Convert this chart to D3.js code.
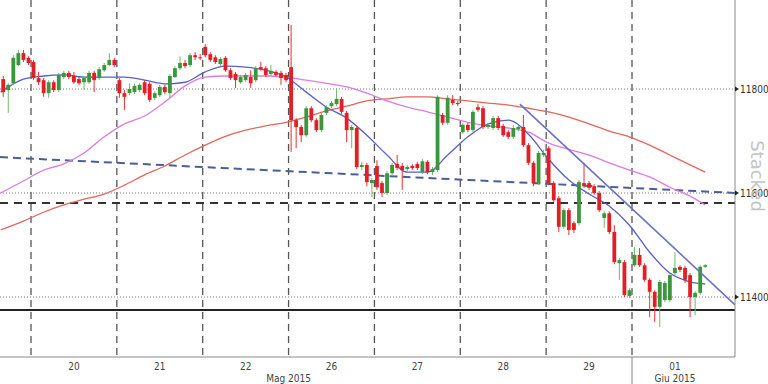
<!DOCTYPE html>
<html><head><meta charset="utf-8">
<script src="https://cdn.jsdelivr.net/npm/d3@7"></script>
<style>body{margin:0;background:#fff}svg{display:block}</style>
</head><body>
<svg id="c" width="768" height="384"></svg>
<script>
// ---------- DATA ----------
const sessionDays   = ["19","20","21","22","26","27","28","29","01"];
const sessionCounts = [6,17,17,17,17,17,17,17,15];
const monthLabels   = ["Mag 2015","Giu 2015"];
const rightTicks    = [11400,11600,11800];

const opens = [11819,11798,11811,11846,11869,11860,11852,11821,11817,11792,11813,11798,11823,11831,11825,11819,11813,11813,11831,11821,11836,11846,11856,
11817,11792,11792,11794,11798,11813,11810,11783,11788,11804,11792,11823,11840,11850,11846,11865,11861,
11881,11867,11861,11848,11860,11836,11829,11813,11817,11823,11817,11842,11840,11829,11833,11831,11827,
11842,11740,11727,11711,11763,11740,11721,11754,11767,11771,11781,11754,11721,11725,11650,11654,11619,
11652,11619,11600,11638,11656,11652,11646,11652,11656,11640,11660,11640,11644,11750,11735,11779,11773,
11717,11731,11721,11765,11763,11727,11725,11744,11729,11717,11708,11723,11727,11692,11658,11619,11673,
11686,11619,11590,11535,11567,11542,11542,11619,11619,11613,11600,11552,11561,11525,11465,11467,11402,
11461,11481,11461,11433,11410,11381,11394,11394,11446,11458,11456,11442,11400,11408,11458];
const highs = [11825,11811,11865,11875,11875,11863,11856,11833,11821,11817,11817,11831,11835,11835,11833,11823,11825,11835,11835,11842,11850,11869,11860,
11821,11798,11811,11810,11811,11817,11813,11796,11808,11808,11829,11844,11863,11856,11869,11871,11867,
11886,11871,11865,11861,11863,11840,11833,11827,11831,11836,11844,11852,11844,11846,11836,11835,11831,
11923,11744,11731,11767,11767,11744,11754,11769,11777,11802,11785,11758,11731,11729,11660,11658,11629,
11663,11623,11642,11658,11673,11658,11654,11656,11660,11665,11663,11650,11788,11754,11788,11788,11777,
11735,11735,11760,11771,11767,11735,11748,11748,11733,11721,11731,11731,11750,11696,11661,11681,11683,
11690,11623,11594,11571,11571,11546,11625,11658,11623,11617,11604,11565,11565,11538,11475,11471,11417,
11496,11494,11465,11436,11413,11433,11431,11446,11486,11461,11460,11446,11411,11461,11463];
const lows = [11785,11754,11808,11844,11852,11846,11817,11808,11785,11783,11794,11794,11819,11819,11810,11808,11798,11810,11794,11817,11833,11844,11842,
11783,11760,11788,11790,11794,11788,11775,11779,11785,11790,11783,11821,11836,11840,11842,11856,11856,
11861,11852,11848,11844,11833,11817,11802,11810,11813,11802,11813,11835,11823,11825,11823,11808,11813,
11679,11686,11698,11708,11736,11717,11717,11750,11763,11767,11752,11698,11686,11646,11644,11613,11592,
11606,11592,11596,11635,11644,11606,11642,11644,11644,11636,11636,11635,11640,11731,11731,11769,11767,
11713,11717,11717,11756,11723,11723,11721,11721,11708,11704,11704,11719,11688,11654,11613,11615,11669,
11615,11583,11525,11531,11519,11523,11538,11610,11606,11596,11563,11533,11521,11463,11433,11400,11398,
11458,11458,11429,11361,11352,11342,11390,11390,11442,11448,11427,11361,11365,11404,11456];
const closes = [11794,11808,11860,11869,11856,11850,11821,11813,11792,11813,11798,11827,11831,11823,11813,11811,11821,11831,11817,11838,11846,11856,11846,
11792,11785,11800,11806,11808,11792,11779,11792,11804,11794,11825,11840,11850,11844,11865,11861,11860,
11865,11856,11852,11858,11836,11821,11817,11823,11827,11811,11840,11838,11827,11835,11827,11821,11817,
11740,11727,11711,11763,11740,11721,11750,11765,11773,11781,11756,11721,11727,11650,11654,11621,11625,
11611,11600,11638,11654,11648,11644,11650,11648,11648,11661,11640,11646,11785,11735,11783,11773,11771,
11731,11721,11756,11760,11727,11731,11744,11725,11711,11708,11725,11727,11692,11658,11619,11677,11677,
11619,11586,11535,11567,11529,11529,11621,11613,11610,11600,11567,11561,11525,11467,11471,11404,11413,
11481,11461,11433,11410,11381,11429,11427,11442,11456,11452,11433,11400,11408,11458,11461];

// moving averages, sampled at candle indices
const maIdx = [-0.5,4,8,12,16,20,24,28,32,36,40,44,48,52,56,60,64,68,72,76,80,84,88,92,96,100,104,108,112,116,120,124,128,132,136,139];
const maBlue = [11794,11819,11825,11827,11823,11823,11823,11817,11810,11813,11833,11844,11842,11836,11823,11794,11765,11744,11711,11673,11640,11640,11673,11708,11733,11740,11713,11665,11625,11598,11575,11538,11486,11446,11429,11425];
const maMagenta = [11600,11623,11644,11656,11677,11708,11733,11748,11775,11806,11823,11825,11825,11825,11823,11817,11811,11804,11792,11777,11765,11756,11746,11736,11729,11725,11717,11696,11684,11673,11658,11644,11631,11611,11594,11577];
const maRed = [11529,11546,11563,11577,11588,11598,11615,11635,11652,11673,11692,11709,11721,11729,11736,11746,11758,11767,11777,11781,11785,11785,11781,11777,11773,11769,11763,11756,11746,11733,11719,11708,11692,11673,11654,11640];

// trend lines and levels
const dashTrendIdx = [-0.14,145.4], dashTrendVal = [11669,11600];
const downTrendIdx = [102.8,145.4], downTrendVal = [11771,11385];
const dashedLevel = 11581;
const solidLevel  = 11375;

// ---------- CHART ----------
const svg = d3.select("#c");
const plotR = 735, axisY = 357;
const x = d3.scaleLinear().domain([6,125]).range([31,632]);
const y = d3.scaleLinear().domain([11400,11800]).range([297,89]);

const starts = [0]; sessionCounts.forEach(c => starts.push(starts[starts.length-1]+c));

svg.append("defs").append("clipPath").attr("id","clip")
  .append("rect").attr("x",0).attr("y",0).attr("width",plotR).attr("height",axisY);
const g = svg.append("g").attr("clip-path","url(#clip)");

// horizontal dotted grid
g.selectAll(".hg").data(rightTicks).enter().append("line")
  .attr("x1",0).attr("x2",plotR).attr("y1",d=>y(d)).attr("y2",d=>y(d))
  .attr("stroke","#777").attr("stroke-width",1).attr("stroke-dasharray","1,2");

// vertical dashed session lines
const bounds = starts.slice(1, sessionCounts.length);
g.selectAll(".vg").data(bounds).enter().append("line")
  .attr("x1",d=>x(d)).attr("x2",d=>x(d)).attr("y1",0).attr("y2",axisY)
  .attr("stroke","#555").attr("stroke-width",1.3).attr("stroke-dasharray","7,5");

// levels
g.append("line").attr("x1",0).attr("x2",plotR).attr("y1",y(dashedLevel)).attr("y2",y(dashedLevel))
  .attr("stroke","#333").attr("stroke-width",2).attr("stroke-dasharray","8,6");
g.append("line").attr("x1",0).attr("x2",plotR).attr("y1",y(solidLevel)).attr("y2",y(solidLevel))
  .attr("stroke","#222").attr("stroke-width",2);

// dashed trend
const lineXY = d3.line().x(d=>x(d[0])).y(d=>y(d[1]));
g.append("path").datum(dashTrendIdx.map((d,i)=>[d,dashTrendVal[i]]))
  .attr("d",lineXY).attr("fill","none").attr("stroke","#4a5f96").attr("stroke-width",2).attr("stroke-dasharray","8,5");

// moving averages
const maLine = d3.line().x(d=>x(d[0]+0.5)).y(d=>y(d[1])).curve(d3.curveMonotoneX);
[[maRed,"#e5645c"],[maMagenta,"#e07ae0"],[maBlue,"#5560c8"]].forEach(([arr,col])=>{
  g.append("path").datum(maIdx.map((d,i)=>[d,arr[i]]))
   .attr("d",maLine).attr("fill","none").attr("stroke",col).attr("stroke-width",1.3);
});

// candles
const candles = opens.map((o,i)=>({i,o,h:highs[i],l:lows[i],c:closes[i]}));
const bw = 3.8;
const cg = g.append("g");
cg.selectAll(".w").data(candles).enter().append("line")
  .attr("x1",d=>x(d.i+0.5)).attr("x2",d=>x(d.i+0.5))
  .attr("y1",d=>y(d.h)).attr("y2",d=>y(d.l))
  .attr("stroke",d=>d.c>=d.o?"#6fb86f":"#e83030").attr("stroke-width",1);
cg.selectAll(".b").data(candles).enter().append("rect")
  .attr("x",d=>x(d.i+0.5)-bw/2).attr("width",bw)
  .attr("y",d=>y(Math.max(d.o,d.c)))
  .attr("height",d=>Math.max(1,Math.abs(y(d.o)-y(d.c))))
  .attr("fill",d=>d.c>=d.o?"#3c963c":"#e41e26");

// down trend line
g.append("path").datum(downTrendIdx.map((d,i)=>[d,downTrendVal[i]]))
  .attr("d",lineXY).attr("fill","none").attr("stroke","#6a72c0").attr("stroke-width",1.6);

// frame
svg.append("line").attr("x1",plotR).attr("x2",plotR).attr("y1",0).attr("y2",axisY).attr("stroke","#888");
svg.append("line").attr("x1",0).attr("x2",plotR).attr("y1",axisY).attr("y2",axisY).attr("stroke","#888");
// month separator
svg.append("line").attr("x1",x(starts[8])).attr("x2",x(starts[8])).attr("y1",axisY).attr("y2",384).attr("stroke","#888");

// right axis
const ra = svg.append("g");
rightTicks.forEach(v=>{
  ra.append("path").attr("d",`M${plotR},${y(v)-2.5}L${plotR+4},${y(v)}L${plotR},${y(v)+2.5}Z`).attr("fill","#222");
  ra.append("text").attr("x",plotR+5).attr("y",y(v)+3.5).text(v)
    .attr("font-family","DejaVu Sans Condensed, DejaVu Sans").attr("font-size",10).attr("fill","#333");
});
svg.append("text").attr("transform",`translate(751,176) rotate(90)`).attr("text-anchor","middle")
  .attr("font-family","DejaVu Sans").attr("font-size",18).attr("fill","#c4c4c4").text("Stacked");

// bottom labels
const font = "DejaVu Sans Condensed, DejaVu Sans";
sessionDays.forEach((d,k)=>{
  if(k===0) return;
  const cx = x((starts[k]+starts[k]+17)/2);
  svg.append("text").attr("x",cx).attr("y",370).attr("text-anchor","middle")
    .attr("font-family",font).attr("font-size",10).attr("fill","#444").text(d);
});
svg.append("text").attr("x",x(starts[4])).attr("y",382).attr("text-anchor","middle")
  .attr("font-family",font).attr("font-size",10).attr("fill","#444").text(monthLabels[0]);
svg.append("text").attr("x",x(starts[8]+8.5)).attr("y",382).attr("text-anchor","middle")
  .attr("font-family",font).attr("font-size",10).attr("fill","#444").text(monthLabels[1]);
</script>
</body></html>
